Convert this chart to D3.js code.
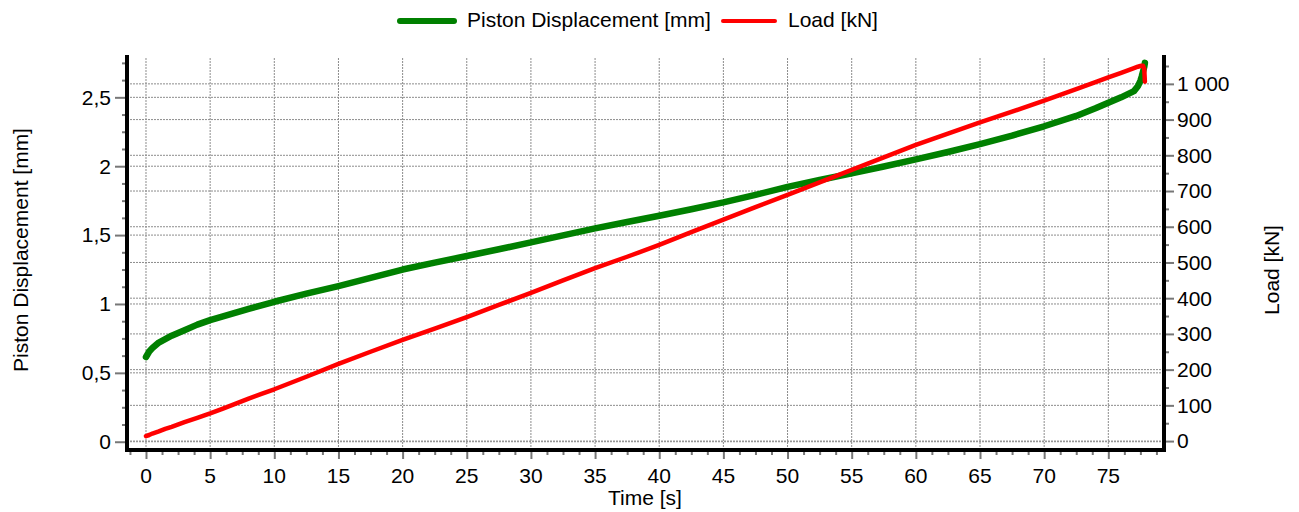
<!DOCTYPE html>
<html>
<head>
<meta charset="utf-8">
<script src="https://cdn.jsdelivr.net/npm/d3@7"></script>
<style>
  body { margin: 0; background: #fff; }
  text { font-family: "Liberation Sans", Arial, sans-serif; fill: #000; }
</style>
</head>
<body>
<div id="container"></div>
<script>
/* DATA */
const time = [0, 0.25, 0.5, 1, 1.5, 2, 3, 4, 5, 6, 7, 8, 9, 10, 12.5, 15, 17.5, 20, 22.5, 25,
  27.5, 30, 32.5, 35, 37.5, 40, 42.5, 45, 47.5, 50, 52.5, 55, 57.5, 60, 62.5, 65, 67.5, 70,
  72.5, 74, 75, 76, 77, 77.3, 77.5, 77.6, 77.7, 77.8, 77.85]

const displacement = [0.615, 0.655, 0.68, 0.72, 0.745, 0.77, 0.81, 0.85, 0.883, 0.91, 0.938,
  0.965, 0.99, 1.016, 1.075, 1.13, 1.19, 1.25, 1.30, 1.348, 1.397, 1.447, 1.498, 1.549, 1.595,
  1.64, 1.688, 1.737, 1.792, 1.85, 1.90, 1.948, 1.998, 2.05, 2.103, 2.16, 2.222, 2.29, 2.365,
  2.42, 2.46, 2.50, 2.545, 2.58, 2.62, 2.65, 2.685, 2.72, 2.75]

const load = [14, 17, 21, 27, 34, 40, 53, 65, 77.5, 91, 105, 119, 132, 145, 180, 216, 250, 283,
  315, 347, 381, 415, 450, 484, 516, 549, 585, 620, 655, 689, 724, 759, 794, 829, 861, 892, 922,
  953, 985, 1005, 1018, 1031, 1044, 1048, 1050, 1051, 1051, 1042, 1006]

const xTicks = [0, 5, 10, 15, 20, 25, 30, 35, 40, 45, 50, 55, 60, 65, 70, 75]
const leftTicks = [0, 0.5, 1, 1.5, 2, 2.5]
const rightTicks = [0, 100, 200, 300, 400, 500, 600, 700, 800, 900, 1000]

const seriesNames = ["Piston Displacement [mm]", "Load [kN]"]
const seriesColors = ["#008000", "#ff0000"]

/* CONSTANTS */
const width = 1299
const height = 512
const plot = { left: 127, right: 1164, top: 56, bottom: 450 }
const fontSize = 21

const svg = d3.select('#container')
  .append('svg')
  .attr('width', width)
  .attr('height', height)

/* SCALES */
const xScale = d3.scaleLinear()
  .domain([-1.48, 79.34])
  .range([plot.left, plot.right])

const yLeft = d3.scaleLinear()
  .domain([-0.06, 2.8])
  .range([plot.bottom, plot.top])

const yRight = d3.scaleLinear()
  .domain([-25, 1078])
  .range([plot.bottom, plot.top])

const fmtLeft = d => d3.format(".1~f")(d).replace(".", ",")
const fmtRight = d => d3.format(",")(d).replace(/,/g, " ")

/* GRID */
const grid = svg.append('g')
  .attr('stroke', '#8c8c8c')
  .attr('stroke-width', 1)
  .attr('stroke-dasharray', '2,1')

grid.selectAll('line.vx')
  .data(xTicks)
  .join('line')
  .attr('x1', d => xScale(d)).attr('x2', d => xScale(d))
  .attr('y1', plot.top + 2).attr('y2', plot.bottom)

grid.selectAll('line.hl')
  .data(leftTicks)
  .join('line')
  .attr('x1', plot.left).attr('x2', plot.right)
  .attr('y1', d => yLeft(d)).attr('y2', d => yLeft(d))

grid.selectAll('line.hr')
  .data(rightTicks)
  .join('line')
  .attr('class', 'hr')
  .attr('x1', plot.left).attr('x2', plot.right)
  .attr('y1', d => yRight(d)).attr('y2', d => yRight(d))

/* AXES */
const tickColor = '#777'

const xAxis = svg.append('g')
  .attr('transform', `translate(0,${plot.bottom})`)
  .call(d3.axisBottom(xScale)
    .tickValues(d3.range(-1.25, 79.3, 1.25))
    .tickSize(5)
    .tickFormat(''))
xAxis.select('.domain').remove()
xAxis.selectAll('line').attr('stroke', tickColor).attr('stroke-width', 2)
xAxis.selectAll('.tick')
  .filter(d => Math.abs(d % 5) < 1e-9)
  .select('line').attr('y2', 9)

svg.append('g')
  .selectAll('text')
  .data(xTicks)
  .join('text')
  .attr('x', d => xScale(d))
  .attr('y', 483)
  .attr('text-anchor', 'middle')
  .attr('font-size', fontSize)
  .text(d => d)

const lAxis = svg.append('g')
  .attr('transform', `translate(${plot.left},0)`)
  .call(d3.axisLeft(yLeft)
    .tickValues(d3.range(0, 2.8, 0.125))
    .tickSize(5)
    .tickFormat(''))
lAxis.select('.domain').remove()
lAxis.selectAll('line').attr('stroke', tickColor).attr('stroke-width', 2)
lAxis.selectAll('.tick')
  .filter(d => Math.abs((d * 2) % 1) < 1e-9)
  .select('line').attr('x2', -12)

svg.append('g')
  .selectAll('text')
  .data(leftTicks)
  .join('text')
  .attr('x', 111)
  .attr('y', d => yLeft(d))
  .attr('dy', '0.35em')
  .attr('text-anchor', 'end')
  .attr('font-size', fontSize)
  .text(fmtLeft)

const rAxis = svg.append('g')
  .attr('transform', `translate(${plot.right},0)`)
  .call(d3.axisRight(yRight)
    .tickValues(d3.range(0, 1078, 50))
    .tickSize(5)
    .tickFormat(''))
rAxis.select('.domain').remove()
rAxis.selectAll('line').attr('stroke', tickColor).attr('stroke-width', 2)
rAxis.selectAll('.tick')
  .filter(d => d % 100 === 0)
  .select('line').attr('x2', 10)

svg.append('g')
  .selectAll('text')
  .data(rightTicks)
  .join('text')
  .attr('x', 1177)
  .attr('y', d => yRight(d))
  .attr('dy', '0.35em')
  .attr('text-anchor', 'start')
  .attr('font-size', fontSize)
  .text(fmtRight)

// thick axis lines
svg.append('path')
  .attr('d', `M${plot.left},${plot.top - 1}V${plot.bottom}H${plot.right}V${plot.top - 1}`)
  .attr('fill', 'none')
  .attr('stroke', '#000')
  .attr('stroke-width', 4)

/* AXIS TITLES */
svg.append('text')
  .attr('x', 645).attr('y', 505)
  .attr('text-anchor', 'middle')
  .attr('font-size', fontSize)
  .text('Time [s]')

svg.append('text')
  .attr('transform', 'translate(28,250) rotate(-90)')
  .attr('text-anchor', 'middle')
  .attr('font-size', fontSize)
  .text(seriesNames[0])

svg.append('text')
  .attr('transform', 'translate(1279,270) rotate(-90)')
  .attr('text-anchor', 'middle')
  .attr('font-size', fontSize)
  .text(seriesNames[1])

/* LINES */
const rows = time.map((t, i) => ({ t, disp: displacement[i], load: load[i] }))

svg.append('path')
  .datum(rows)
  .attr('fill', 'none')
  .attr('stroke', seriesColors[0])
  .attr('stroke-width', 6.5)
  .attr('stroke-linejoin', 'round')
  .attr('stroke-linecap', 'round')
  .attr('d', d3.line().x(d => xScale(d.t)).y(d => yLeft(d.disp)))

svg.append('path')
  .datum(rows)
  .attr('fill', 'none')
  .attr('stroke', seriesColors[1])
  .attr('stroke-width', 4.5)
  .attr('stroke-linejoin', 'round')
  .attr('stroke-linecap', 'round')
  .attr('d', d3.line().x(d => xScale(d.t)).y(d => yRight(d.load)))

/* LEGEND */
const legend = svg.append('g')
const legendItems = [
  { x: 400, w: 54, sw: 6, textX: 467 },
  { x: 723, w: 52, sw: 4, textX: 788 }
]
legendItems.forEach((it, i) => {
  legend.append('line')
    .attr('x1', it.x).attr('x2', it.x + it.w)
    .attr('y1', 21).attr('y2', 21)
    .attr('stroke', seriesColors[i])
    .attr('stroke-width', it.sw)
    .attr('stroke-linecap', 'round')
  legend.append('text')
    .attr('x', it.textX).attr('y', 27)
    .attr('font-size', fontSize)
    .text(seriesNames[i])
})
</script>
</body>
</html>
